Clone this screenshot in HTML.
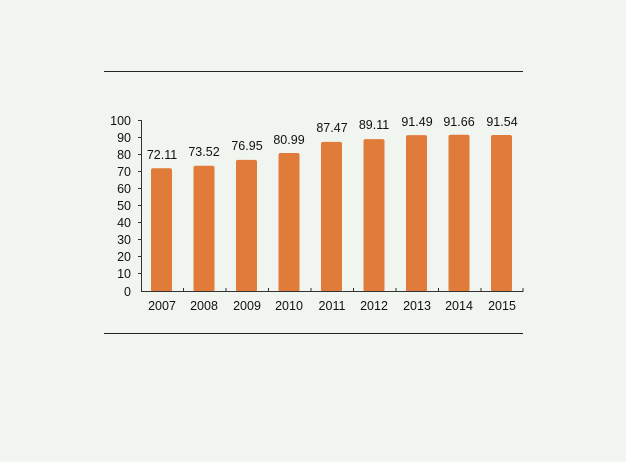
<!DOCTYPE html>
<html><head><meta charset="utf-8"><style>
html,body{margin:0;padding:0;background:#f0f5ef;}
svg{display:block}
text{font-family:"Liberation Sans",Arial,sans-serif;font-size:12.5px;fill:#111}
</style></head><body>
<svg width="626" height="462" viewBox="0 0 626 462">
<rect width="626" height="462" fill="#f0f5ef"/>
<line x1="104" y1="71.5" x2="523" y2="71.5" stroke="#222" stroke-width="1"/>
<line x1="104" y1="333.5" x2="523" y2="333.5" stroke="#222" stroke-width="1"/>
<g fill="#e07b39">
<rect x="151" y="168.2" width="21" height="123.3" rx="2"/>
<rect x="193.5" y="165.8" width="21" height="125.7" rx="2"/>
<rect x="236" y="159.9" width="21" height="131.6" rx="2"/>
<rect x="278.5" y="153" width="21" height="138.5" rx="2"/>
<rect x="321" y="141.9" width="21" height="149.6" rx="2"/>
<rect x="363.5" y="139.1" width="21" height="152.4" rx="2"/>
<rect x="406" y="135.1" width="21" height="156.4" rx="2"/>
<rect x="448.5" y="134.8" width="21" height="156.7" rx="2"/>
<rect x="491" y="135" width="21" height="156.5" rx="2"/>
</g>
<line x1="141.5" y1="120" x2="141.5" y2="292" stroke="#333"/>
<line x1="141" y1="291.5" x2="523" y2="291.5" stroke="#333"/>
<g text-anchor="end">
<text x="131" y="125">100</text><text x="131" y="142">90</text><text x="131" y="159">80</text>
<text x="131" y="176">70</text><text x="131" y="193">60</text><text x="131" y="210">50</text>
<text x="131" y="227">40</text><text x="131" y="244">30</text><text x="131" y="261">20</text>
<text x="131" y="278">10</text><text x="131" y="296">0</text>
</g>
<g stroke="#333">
<line x1="138" y1="120.5" x2="141" y2="120.5"/><line x1="138" y1="137.5" x2="141" y2="137.5"/>
<line x1="138" y1="154.5" x2="141" y2="154.5"/><line x1="138" y1="171.5" x2="141" y2="171.5"/>
<line x1="138" y1="188.5" x2="141" y2="188.5"/><line x1="138" y1="205.5" x2="141" y2="205.5"/>
<line x1="138" y1="222.5" x2="141" y2="222.5"/><line x1="138" y1="239.5" x2="141" y2="239.5"/>
<line x1="138" y1="256.5" x2="141" y2="256.5"/><line x1="138" y1="273.5" x2="141" y2="273.5"/>
</g>
<g stroke="#333">
<line x1="183.5" y1="288" x2="183.5" y2="292"/><line x1="226" y1="288" x2="226" y2="292"/>
<line x1="268.5" y1="288" x2="268.5" y2="292"/><line x1="311" y1="288" x2="311" y2="292"/>
<line x1="353.5" y1="288" x2="353.5" y2="292"/><line x1="396" y1="288" x2="396" y2="292"/>
<line x1="438.5" y1="288" x2="438.5" y2="292"/><line x1="481" y1="288" x2="481" y2="292"/>
<line x1="523" y1="288" x2="523" y2="292"/>
</g>
<g text-anchor="middle">
<text x="162" y="159">72.11</text><text x="204" y="156">73.52</text><text x="247" y="150">76.95</text>
<text x="289" y="144">80.99</text><text x="332" y="132">87.47</text><text x="374" y="129">89.11</text>
<text x="417" y="126">91.49</text><text x="459" y="126">91.66</text><text x="502" y="126">91.54</text>
<text x="162" y="310">2007</text><text x="204" y="310">2008</text><text x="247" y="310">2009</text>
<text x="289" y="310">2010</text><text x="332" y="310">2011</text><text x="374" y="310">2012</text>
<text x="417" y="310">2013</text><text x="459" y="310">2014</text><text x="502" y="310">2015</text>
</g>
</svg>
</body></html>
